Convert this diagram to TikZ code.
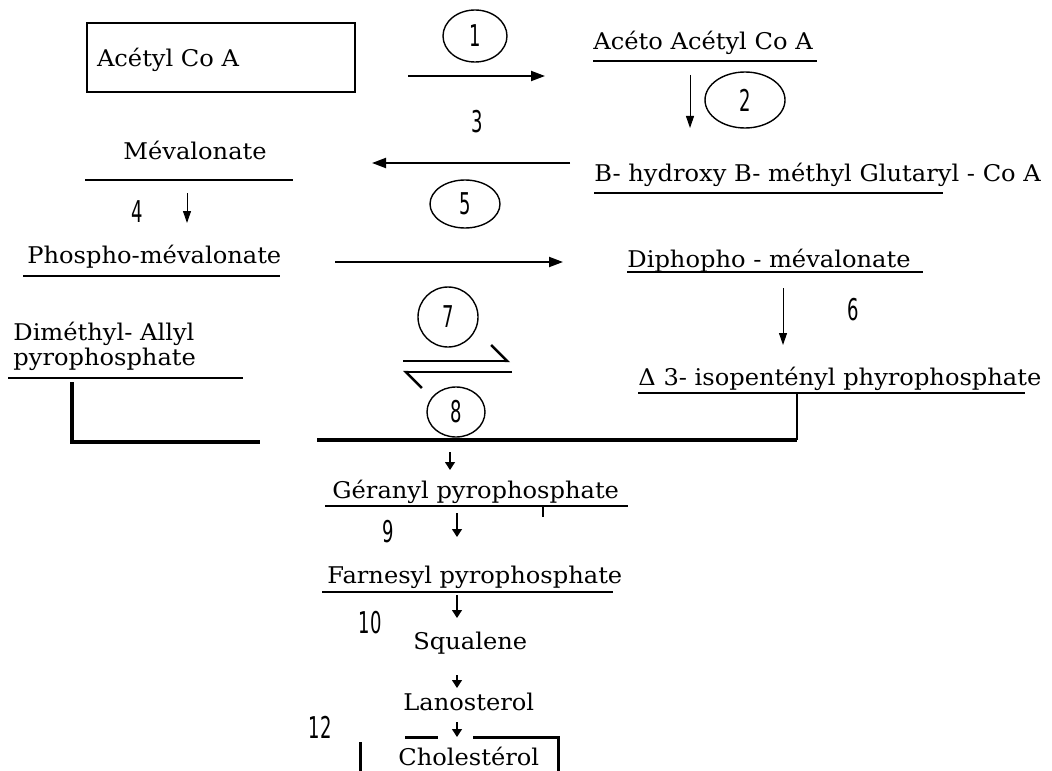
\documentclass[tikz,border=0pt]{standalone}
\usepackage{fontspec}
\setmainfont{DejaVu Serif}[FakeStretch=1.05]
\newfontfamily\numfont{DejaVu Sans}[FakeStretch=0.6]
\usetikzlibrary{arrows.meta,calc,positioning,shapes.geometric}

\tikzset{
  cpd/.style={anchor=base west,inner sep=0pt,font=\fontsize{11.5}{10}\selectfont},
  enz/.style={draw,ellipse,inner sep=0pt,line width=0.7pt,font=\numfont\fontsize{15}{15}\selectfont},
  num/.style={inner sep=0pt,font=\numfont\fontsize{15}{15}\selectfont},
  uline/.style={line width=0.6pt},
  rxn/.style={line width=1pt,-{Triangle[length=7pt,width=5pt]}},
  thinrxn/.style={line width=0.5pt,-{Triangle[length=6pt,width=4pt]}},
  shortrxn/.style={line width=0.6pt,-{Triangle[length=4pt,width=5pt]}},
  equil/.style={line width=1.2pt,-{Straight Barb[harpoon,length=8pt,width=16pt]}},
  condline/.style={line width=2pt},
}

\begin{document}
\begin{tikzpicture}[x=0.5pt,y=-0.5pt]
\useasboundingbox (0,0) rectangle (1052,770);

% compounds
\node[draw,line width=1pt,minimum width=134pt,minimum height=34.5pt,text width=124pt,text depth=0pt,align=left,inner sep=5pt,font=\fontsize{11.5}{10}\selectfont] (acetyl) at (221,57.5) {Acétyl Co A};
\node[cpd] (aceto) at (593,50) {Acéto Acétyl Co A};
\node[cpd] (hmg) at (594,182) {B- hydroxy B- méthyl Glutaryl - Co A};
\node[cpd] (meval) at (123,160) {Mévalonate};
\node[cpd] (phospho) at (27,263) {Phospho-mévalonate};
\node[cpd] (diphos) at (627,267) {Diphopho - mévalonate};
\node[cpd,align=left] (dmapp) at (13,365) {Diméthyl- Allyl\\pyrophosphate};
\node[cpd] (ipp) at (638,385) {Δ 3- isopentényl phyrophosphate};
\node[cpd] (geranyl) at (332,498) {Géranyl pyrophosphate};
\node[cpd] (farnesyl) at (327,583) {Farnesyl pyrophosphate};
\node[cpd] (squalene) at (413,649) {Squalene};
\node[cpd] (lanost) at (403,710) {Lanosterol};
\node[cpd] (chol) at (398,765) {Cholestérol};

% underlines
\foreach \y/\a/\b in {61/593/817, 193/594/943, 180/85/293, 276/23/280, 272/627/923,
                      378/8/243, 393/638/1025, 506/325/628, 592/322/613}
  \draw[uline] (\a,\y) -- (\b,\y);
\draw[uline] (543,506) -- (543,517);

% enzymes
\node[enz,minimum width=32pt,minimum height=26pt] (e1) at (475,36) {1};
\node[enz,minimum width=40pt,minimum height=28pt] (e2) at (745,100) {2};
\node[enz,minimum width=35pt,minimum height=24pt] (e5) at (465,204) {5};
\node[enz,minimum width=30pt,minimum height=30pt] (e7) at (448,317) {7};
\node[enz,minimum width=29pt,minimum height=25pt] (e8) at (456,412) {8};
\node[num] (n3) at (477,122) {3};
\node[num] (n4) at (137,212) {4};
\node[num] (n6) at (853,310) {6};
\node[num] (n9) at (388,532) {9};
\node[num] (n10) at (370,623) {10};
\node[num] (n12) at (320,727) {12};

% arrow ends
\coordinate (a1s) at (408,76);  \coordinate (a1e) at (545,76);
\coordinate (a2s) at (690,75);  \coordinate (a2e) at (690,128);
\coordinate (a3s) at (570,163); \coordinate (a3e) at (372,163);
\coordinate (a4s) at (187,193); \coordinate (a4e) at (187,223);
\coordinate (a5s) at (335,262); \coordinate (a5e) at (563,262);
\coordinate (a6s) at (783,288); \coordinate (a6e) at (783,345);
\coordinate (q1s) at (403,361); \coordinate (q1e) at (510,361);
\coordinate (q2s) at (512,372); \coordinate (q2e) at (403,372);

\draw[rxn] (a1s) -- (a1e);
\draw[thinrxn] (a2s) -- (a2e);
\draw[rxn] (a3s) -- (a3e);
\draw[thinrxn] (a4s) -- (a4e);
\draw[rxn] (a5s) -- (a5e);
\draw[thinrxn] (a6s) -- (a6e);
\draw[equil] (q1s) -- (q1e);
\draw[equil] (q2s) -- (q2e);

% condensation
\draw[condline] (72,382) -- (72,442) -- (260,442);
\draw[condline] (317,440) -- (797,440);
\draw[line width=1pt] (797,393) -- (797,440);

% lower chain
\draw[shortrxn] (450,452) -- (450,470);
\draw[shortrxn] (457,513) -- (457,537);
\draw[shortrxn] (457,595) -- (457,618);
\draw[shortrxn] (457,675) -- (457,688);
\draw[shortrxn] (457,722) -- (457,737);

% frame round cholesterol
\draw[line width=1.5pt] (405,737) -- (438,737);
\draw[line width=1.5pt] (473,737) -- (558,737) -- (558,772);
\draw[line width=1.5pt] (360,742) -- (360,772);
\end{tikzpicture}
\end{document}
